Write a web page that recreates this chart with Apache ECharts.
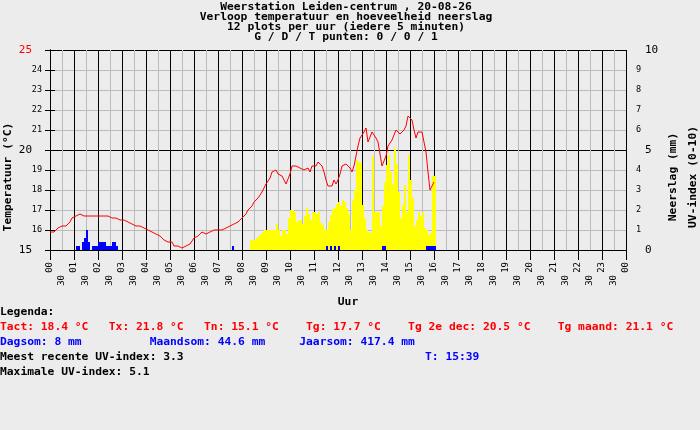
<!DOCTYPE html>
<html>
<head>
<meta charset="utf-8">
<script src="https://cdn.jsdelivr.net/npm/echarts@6.0.0/dist/echarts.min.js"></script>
<style>
html, body { margin: 0; padding: 0; background: #ececec; }
#chart { width: 700px; height: 430px; }
</style>
</head>
<body>
<div id="chart"></div>
<script>
// temperatuur per 5 minuten vanaf 00:00 (12 plots per uur)
var temperatuur = [
	15.9, 15.9, 15.9, 15.9, 16.1, 16.2, 16.2, 16.2, 16.2, 16.3, 16.4, 16.6, // 00
	16.7, 16.7, 16.7, 16.8, 16.7, 16.7, 16.8, 16.7, 16.7, 16.7, 16.7, 16.7, // 01
	16.7, 16.7, 16.7, 16.7, 16.7, 16.7, 16.6, 16.6, 16.6, 16.6, 16.6, 16.5, // 02
	16.5, 16.5, 16.5, 16.4, 16.4, 16.3, 16.3, 16.2, 16.2, 16.2, 16.1, 16.1, // 03
	16.1, 16.0, 16.0, 15.9, 15.8, 15.8, 15.7, 15.7, 15.6, 15.5, 15.5, 15.4, // 04
	15.4, 15.4, 15.2, 15.2, 15.2, 15.1, 15.1, 15.1, 15.2, 15.2, 15.3, 15.4, // 05
	15.6, 15.7, 15.7, 15.8, 15.9, 15.8, 15.8, 15.9, 15.9, 15.9, 16.0, 15.9, // 06
	16.0, 15.9, 16.0, 16.1, 16.1, 16.1, 16.2, 16.2, 16.3, 16.3, 16.4, 16.5, // 07
	16.6, 16.7, 16.8, 17.0, 17.1, 17.2, 17.4, 17.4, 17.6, 17.7, 17.9, 18.0, // 08
	18.3, 18.4, 18.6, 18.9, 18.9, 19.0, 18.8, 18.8, 18.7, 18.6, 18.3, 18.4, // 09
	18.8, 19.2, 19.3, 19.2, 19.1, 19.1, 19.0, 19.0, 18.9, 19.1, 18.9, 19.2, // 10
	19.3, 19.2, 19.4, 19.4, 19.2, 18.9, 18.5, 18.2, 18.1, 18.2, 18.5, 18.3, // 11
	18.5, 18.8, 19.2, 19.2, 19.3, 19.4, 19.1, 18.9, 19.2, 19.7, 20.2, 20.6, // 12
	20.6, 20.9, 21.1, 20.4, 20.4, 20.9, 20.8, 20.6, 20.4, 19.8, 19.2, 19.3, // 13
	19.7, 20.2, 20.3, 20.5, 20.6, 21.0, 20.9, 20.8, 20.7, 21.0, 21.2, 21.7, // 14
	21.8, 21.5, 21.0, 20.6, 20.9, 20.9, 20.9, 20.8, 19.9, 18.9, 18.0, 18.2, // 15
	18.4                                                                    // 16
];

// UV-index per 5 minuten vanaf 08:20
var uvStart = '08:20';
var uvIndex = [
	0.5, 0.5, 0.5, 0.6, 0.7, 0.8, 0.9, 1.0, 1.0, 1.0,
	1.0, 1.0, 1.0, 1.3, 1.0, 0.7, 1.0, 1.0, 0.8, 1.6,
	2.0, 2.0, 1.9, 1.4, 1.5, 1.5, 1.3, 1.7, 2.1, 1.8,
	1.5, 1.9, 1.9, 1.8, 1.9, 1.35, 1.25, 1.0, 1.0, 1.4,
	1.75, 2.05, 2.1, 2.3, 2.4, 2.2, 2.5, 2.4, 2.1, 1.8,
	1.0, 2.5, 3.0, 4.5, 4.4, 4.35, 2.25, 1.6, 1.0, 0.9,
	0.85, 4.7, 1.9, 1.9, 1.9, 1.2, 2.2, 3.4, 4.25, 4.75,
	3.9, 3.3, 5.1, 4.3, 2.9, 1.6, 2.25, 3.25, 1.9, 4.75,
	3.5, 2.6, 1.2, 1.5, 1.9, 1.7, 1.9, 1.1, 1.0, 0.75,
	0.85, 3.7, 3.7
];

// neerslag (mm) per 5 minuten
var neerslagTijd = ['01:05', '01:10', '01:20', '01:25', '01:30', '01:35', '01:45', '01:50', '01:55',
	'02:00', '02:05', '02:10', '02:15', '02:20', '02:25', '02:30', '02:35', '02:40', '02:45',
	'07:35', '11:30', '11:40', '11:50', '12:00', '13:50', '13:55',
	'15:40', '15:45', '15:50', '15:55', '16:00'];
var neerslagMm = [0.2, 0.2, 0.4, 0.6, 1.0, 0.4, 0.2, 0.2, 0.2,
	0.4, 0.4, 0.4, 0.4, 0.2, 0.2, 0.2, 0.4, 0.4, 0.2,
	0.2, 0.2, 0.2, 0.2, 0.2, 0.2, 0.2,
	0.2, 0.2, 0.2, 0.2, 0.2];

var titelRegels = [
	'Weerstation Leiden-centrum , 20-08-26',
	'Verloop temperatuur en hoeveelheid neerslag',
	'12 plots per uur (iedere 5 minuten)',
	'G / D / T punten: 0 / 0 / 1'
];

var mono = '"DejaVu Sans Mono", "Liberation Mono", monospace';
var fontB = 'bold 11.3px ' + mono;

function minuten(t) {
	var p = t.split(':');
	return Number(p[0]) * 60 + Number(p[1]);
}

var lijnData = temperatuur.map(function (t, i) { return [i * 5, t]; });
var uvData = uvIndex.map(function (u, i) { return [minuten(uvStart) + i * 5 + 2.5, u]; });
var regenData = neerslagTijd.map(function (t, i) { return [minuten(t) + 2.5, neerslagMm[i]]; });

function tekst(x, y, s, kleur, opts) {
	opts = opts || {};
	return {
		type: 'text', x: x, y: y, rotation: opts.rotation || 0, silent: true,
		style: {
			text: s, font: fontB, fill: kleur,
			textAlign: opts.align || 'left', textVerticalAlign: 'middle'
		}
	};
}

var graphics = [];
titelRegels.forEach(function (r, i) {
	graphics.push(tekst(346, 7 + i * 10, r, '#000', { align: 'center' }));
});
graphics.push(tekst(8, 177, 'Temperatuur (°C)', '#000', { align: 'center', rotation: Math.PI / 2 }));
graphics.push(tekst(673, 177, 'Neerslag (mm)', '#000', { align: 'center', rotation: Math.PI / 2 }));
graphics.push(tekst(693, 177, 'UV-index (0-10)', '#000', { align: 'center', rotation: Math.PI / 2 }));
graphics.push(tekst(348, 302, 'Uur', '#000', { align: 'center' }));
graphics.push(tekst(0, 312, 'Legenda:', '#000'));
graphics.push(tekst(0, 327, 'Tact: 18.4 °C   Tx: 21.8 °C   Tn: 15.1 °C    Tg: 17.7 °C    Tg 2e dec: 20.5 °C    Tg maand: 21.1 °C', '#ff0000'));
graphics.push(tekst(0, 342, 'Dagsom: 8 mm          Maandsom: 44.6 mm     Jaarsom: 417.4 mm', '#0000ff'));
graphics.push(tekst(0, 357, 'Meest recente UV-index: 3.3', '#000'));
graphics.push(tekst(425, 357, 'T: 15:39', '#0000ff'));
graphics.push(tekst(0, 372, 'Maximale UV-index: 5.1', '#000'));

var myChart = echarts.init(document.getElementById('chart'));

var option = {
	animation: false,
	backgroundColor: '#ececec',
	grid: { left: 50, right: 74, top: 50, bottom: 180 },
	xAxis: [{
		type: 'value', min: 0, max: 1440, interval: 30,
		axisLine: { lineStyle: { color: '#000' } },
		axisTick: { show: false },
		axisLabel: {
			rotate: 90, margin: 25, color: '#000', fontFamily: mono, fontSize: 9,
			formatter: function (v) { return v % 60 === 30 ? '30' : ''; }
		},
		splitLine: { show: true, lineStyle: { color: ['#000', '#bbb'], width: 1 } }
	}, {
		type: 'value', min: 0, max: 1440, interval: 60, position: 'bottom',
		axisLine: { show: false },
		axisTick: { show: true, length: 10, lineStyle: { color: '#000' } },
		axisLabel: {
			rotate: 90, margin: 12, color: '#000', fontFamily: mono, fontSize: 9,
			formatter: function (v) {
				var h = (v / 60) % 24;
				return (h < 10 ? '0' : '') + h;
			}
		},
		splitLine: { show: false }
	}],
	yAxis: [{
		type: 'value', min: 15, max: 25, interval: 1, position: 'left',
		axisLine: { show: true, lineStyle: { color: '#000' } },
		axisTick: { show: true, length: 5, lineStyle: { color: '#000' } },
		axisLabel: {
			margin: 8, color: '#000', fontFamily: mono,
			formatter: function (v) {
				if (v === 25) return '{r|25}';
				if (v === 20 || v === 15) return '{b|' + v + '}';
				return '{s|' + v + '}';
			},
			rich: {
				r: { color: '#ff0000', fontSize: 11, fontFamily: mono, padding: [0, 10, 0, 0] },
				b: { color: '#000', fontSize: 11, fontFamily: mono, padding: [0, 10, 0, 0] },
				s: { color: '#000', fontSize: 8.5, fontFamily: mono }
			}
		},
		splitLine: { show: true, lineStyle: { color: ['#000', '#bbb', '#bbb', '#bbb', '#bbb'], width: 1 } }
	}, {
		type: 'value', min: 0, max: 10, interval: 1, position: 'right',
		axisLine: { show: true, lineStyle: { color: '#000' } },
		axisTick: { show: true, length: 5, lineStyle: { color: '#000' } },
		axisLabel: {
			margin: 10, color: '#000', fontFamily: mono,
			formatter: function (v) {
				if (v === 0 || v === 5 || v === 10) return '{b|' + v + '}';
				return '{s|' + v + '}';
			},
			rich: {
				b: { color: '#000', fontSize: 11, fontFamily: mono, padding: [0, 0, 0, 9] },
				s: { color: '#000', fontSize: 8.5, fontFamily: mono }
			}
		},
		splitLine: { show: false }
	}],
	graphic: graphics,
	series: [{
		name: 'UV-index',
		type: 'bar',
		xAxisIndex: 0, yAxisIndex: 1,
		barWidth: 2, barGap: '-100%',
		itemStyle: { color: '#ffff00' },
		data: uvData
	}, {
		name: 'Neerslag',
		type: 'bar',
		xAxisIndex: 0, yAxisIndex: 1,
		barWidth: 2, barGap: '-100%',
		itemStyle: { color: '#0000ff' },
		data: regenData
	}, {
		name: 'Temperatuur',
		type: 'line',
		xAxisIndex: 0, yAxisIndex: 0,
		symbol: 'none',
		lineStyle: { color: '#ff0000', width: 1 },
		data: lijnData,
		z: 5
	}]
};
myChart.setOption(option);
</script>
</body>
</html>
